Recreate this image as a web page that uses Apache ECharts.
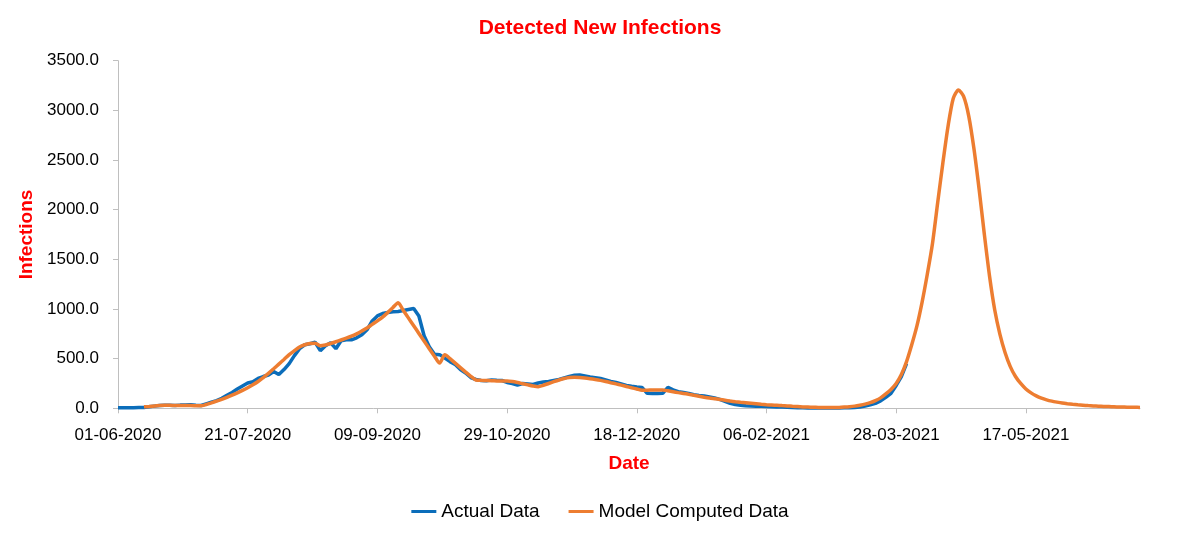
<!DOCTYPE html>
<html>
<head>
<meta charset="utf-8">
<script src="https://cdn.jsdelivr.net/npm/echarts@6/dist/echarts.min.js"></script>
<style>html,body{margin:0;padding:0;background:#fff}#c{width:1200px;height:535px}</style>
</head>
<body>
<div id="c"></div>
<script>
// Day 0 = 01-06-2020
const startDate = [2020, 5, 1];
const tickStepDays = 50;
const lastDay = 394;
const yTicks = [0, 500, 1000, 1500, 2000, 2500, 3000, 3500];

// Actual data: every 2 days starting at day 0
const actualStart = 0, actualStep = 2;
const actualValues = [
  5,5,6,6,7,8,15,22,28,30,30,28,32,33,35,30,28,45,62,78,
  100,130,160,195,225,255,268,300,320,335,370,340,390,450,530,600,640,650,665,580,
  630,660,600,680,690,690,710,740,790,880,930,955,965,972,975,985,995,1005,930,730,
  620,545,540,505,470,440,390,355,310,290,280,278,285,282,280,260,250,235,250,245,
  240,255,265,270,280,290,305,320,332,335,325,315,308,300,285,270,260,245,230,222,
  215,210,152,150,150,152,210,185,168,160,150,136,130,125,115,105,90,70,50,38,
  30,25,22,20,20,18,16,14,12,10,8,6,5,4,3,3,3,3,4,4,
  5,6,8,12,22,35,50,75,110,150,230,320,450
];

// Model computed data: every 2 days starting at day 10
const modelStart = 10, modelStep = 2;
const modelValues = [
  15,18,22,28,30,30,28,28,27,27,26,25,38,55,72,90,110,132,155,180,
  207,237,270,310,352,398,445,492,540,580,618,640,653,655,630,638,652,670,688,706,
  726,750,778,808,845,880,918,965,1015,1062,985,908,831,754,677,600,525,455,540,500,
  455,410,365,322,285,282,280,278,276,275,275,270,260,248,236,225,218,232,250,268,
  285,300,310,313,310,305,298,290,281,270,258,246,233,220,207,195,182,183,184,185,
  184,176,167,158,150,141,132,122,112,103,96,89,81,73,66,60,55,50,45,40,
  36,33,30,27,24,20,17,14,12,10,9,8,8,8,9,12,16,22,31,42,
  57,78,105,145,190,250,340,470,640,830,1070,1350,1660,2070,2470,2840,3120,3205,3140,2940,
  2610,2200,1750,1330,990,745,560,420,320,250,195,155,125,102,85,72,62,53,46,40,
  35,31,27,24,21,19,17,15,13,12,11,10,9
];

const actualData = actualValues.map((v, i) => [actualStart + i * actualStep, v]);
const modelData = modelValues.map((v, i) => [modelStart + i * modelStep, v]);

function dayLabel(d) {
  const dt = new Date(Date.UTC(startDate[0], startDate[1], startDate[2] + d));
  const dd = String(dt.getUTCDate()).padStart(2, '0');
  const mm = String(dt.getUTCMonth() + 1).padStart(2, '0');
  return dd + '-' + mm + '-' + dt.getUTCFullYear();
}

const font = '"Liberation Sans", Arial, sans-serif';
const chart = echarts.init(document.getElementById('c'), null, {renderer: 'canvas'});
chart.setOption({
  animation: false,
  backgroundColor: '#ffffff',
  title: {
    text: 'Detected New Infections',
    left: 'center', top: 13,
    textStyle: {color: '#FF0000', fontSize: 21, fontWeight: 'bold', fontFamily: font}
  },
  legend: {
    data: ['Actual Data', 'Model Computed Data'],
    left: 'center', top: 497,
    icon: 'rect', itemWidth: 25, itemHeight: 3, itemGap: 29,
    textStyle: {color: '#000', fontSize: 19, fontFamily: font}
  },
  grid: {left: 118, right: 60, top: 60.7, bottom: 126.7},
  xAxis: {
    type: 'value', min: 0, max: lastDay, interval: tickStepDays,
    name: 'Date', nameLocation: 'middle', nameGap: 46,
    nameTextStyle: {color: '#FF0000', fontSize: 19, fontWeight: 'bold', fontFamily: font},
    axisLine: {show: true, lineStyle: {color: '#BFBFBF', width: 1}},
    axisTick: {show: true, length: 5, lineStyle: {color: '#BFBFBF'}},
    splitLine: {show: false},
    axisLabel: {
      color: '#000', fontSize: 17, fontFamily: font, margin: 19,
      showMaxLabel: false,
      formatter: v => dayLabel(v)
    }
  },
  yAxis: {
    type: 'value', min: yTicks[0], max: yTicks[yTicks.length - 1], interval: yTicks[1] - yTicks[0],
    name: 'Infections', nameLocation: 'middle', nameGap: 78,
    nameTextStyle: {color: '#FF0000', fontSize: 19, fontWeight: 'bold', fontFamily: font},
    axisLine: {show: true, lineStyle: {color: '#BFBFBF', width: 1}},
    axisTick: {show: true, length: 5, lineStyle: {color: '#BFBFBF'}},
    splitLine: {show: false},
    axisLabel: {color: '#000', fontSize: 17, fontFamily: font, margin: 19,
      formatter: v => v.toFixed(1)}
  },
  series: [
    {
      name: 'Actual Data', type: 'line', data: actualData,
      showSymbol: false, symbol: 'none',
      lineStyle: {color: '#0B6DBA', width: 3.5},
      itemStyle: {color: '#0B6DBA'}
    },
    {
      name: 'Model Computed Data', type: 'line', data: modelData,
      showSymbol: false, symbol: 'none', smooth: 0.25,
      lineStyle: {color: '#ED7D31', width: 3.5},
      itemStyle: {color: '#ED7D31'}
    }
  ]
});
</script>
</body>
</html>
